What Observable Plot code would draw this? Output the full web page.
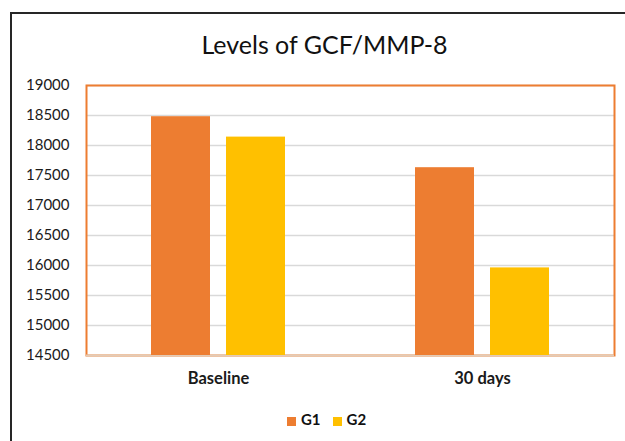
<!DOCTYPE html>
<html><head><meta charset="utf-8">
<script src="https://cdn.jsdelivr.net/npm/d3@7"></script>
<script src="https://cdn.jsdelivr.net/npm/@observablehq/plot@0.6"></script>
<style>
body{margin:0;background:#fff;font-family:Lato,"Open Sans",sans-serif;}
#wrap{position:relative;width:625px;height:441px;overflow:hidden;background:#fff;}
.layer{position:absolute;left:0;top:0;}
#border{position:absolute;left:10px;top:12px;width:700px;height:500px;border-left:2px solid #262626;border-top:2px solid #262626;pointer-events:none;}
#title{position:absolute;left:0;width:649px;top:31px;line-height:26px;text-align:center;font-size:25px;color:#111;}
#legend{position:absolute;left:0;width:653px;top:410px;display:flex;justify-content:center;align-items:center;gap:12px;font-size:15px;font-weight:bold;color:#111;}
#legend span.sw{display:inline-block;width:9px;height:9px;margin-right:5px;vertical-align:middle;}
</style></head>
<body>
<div id="wrap">
  <div id="grid" class="layer"></div>
  <div id="bars" class="layer"></div>
  <div id="title">Levels of GCF/MMP-8</div>
  <div id="legend"></div>
  <div id="border"></div>
</div>
<script>
const periods = ["Baseline", "30 days"];
const groups = ["G1", "G2"];
const g1Values = [18480, 17630];
const g2Values = [18140, 15960];
const yTicks = [14500, 15000, 15500, 16000, 16500, 17000, 17500, 18000, 18500, 19000];
const colors = ["#ED7D31", "#FFC000"];

const data = [];
periods.forEach((p, i) => {
  data.push({period: p, group: groups[0], value: g1Values[i]});
  data.push({period: p, group: groups[1], value: g2Values[i]});
});

const common = {
  width: 625,
  height: 441,
  marginLeft: 86,
  marginRight: 11,
  marginTop: 85,
  marginBottom: 86,
  style: {background: "transparent", fontFamily: "Lato, 'Open Sans', sans-serif", fontSize: "15px", color: "#1a1a1a"},
  y: {domain: [yTicks[0], yTicks[yTicks.length - 1]], axis: null}
};

// Background layer: gridlines, y axis, plot-area frame
const gridPlot = Plot.plot({
  ...common,
  marks: [
    Plot.ruleY(yTicks.slice(1), {stroke: "#d9d9d9", strokeWidth: 1.5}),
    Plot.frame({stroke: "#ED7D31", strokeWidth: 2}),
    Plot.ruleY([yTicks[0]], {stroke: "#e3cbb6", strokeWidth: 2}),
    Plot.axisY(yTicks, {tickSize: 0, tickPadding: 17, tickFormat: d => String(d), fontSize: 15, label: null})
  ]
});
document.getElementById("grid").appendChild(gridPlot);

// Foreground layer: grouped bars and category labels
const barPlot = Plot.plot({
  ...common,
  fx: {domain: periods, paddingInner: 0.4924, paddingOuter: 0.2462, axis: null, label: null},
  x: {domain: groups, paddingInner: 16 / 75, paddingOuter: 0, axis: null},
  color: {domain: groups, range: colors},
  marks: [
    Plot.barY(data, {fx: "period", x: "group", y1: yTicks[0], y2: "value", fill: "group"}),
    Plot.axisFx({anchor: "bottom", tickSize: 0, tickPadding: 17, fontWeight: "bold", fontSize: 16.5, label: null})
  ]
});
document.getElementById("bars").appendChild(barPlot);

const legend = document.getElementById("legend");
groups.forEach((g, i) => {
  const item = document.createElement("span");
  item.innerHTML = `<span class="sw" style="background:${colors[i]}"></span>${g}`;
  legend.appendChild(item);
});
</script>
</body></html>
